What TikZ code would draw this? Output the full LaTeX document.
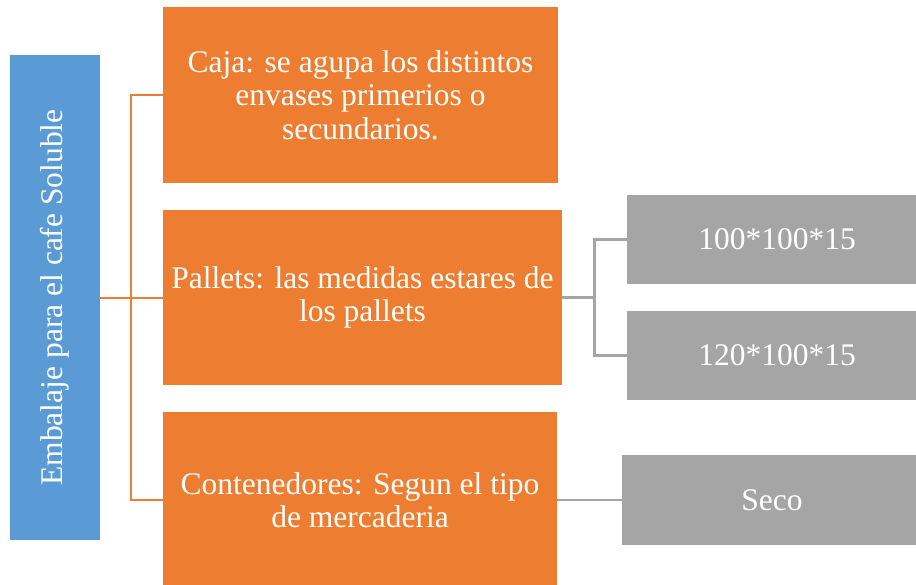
\documentclass[tikz,border=0pt]{standalone}
\usepackage{fontspec}
\setmainfont{Liberation Serif}
\usetikzlibrary{positioning}
\definecolor{embblue}{HTML}{5B9BD5}
\definecolor{emborange}{HTML}{ED7D31}
\definecolor{embgray}{HTML}{A5A5A5}

\begin{document}
\begin{tikzpicture}[x=1pt,y=-1pt,
  box/.style={rectangle,inner sep=0pt,text=white,align=center,font=\fontsize{31.5}{33.5}\selectfont},
  bluebox/.style={box,fill=embblue},
  orangebox/.style={box,fill=emborange,minimum width=395pt,minimum height=176pt},
  graybox/.style={box,fill=embgray,minimum width=300pt,minimum height=89pt},
  orangeline/.style={draw=emborange,line width=2pt},
  grayline/.style={draw=embgray,line width=2.6pt}]
\useasboundingbox (0,0) rectangle (916,584);
\node [bluebox,rotate=90,minimum width=485pt,minimum height=90pt,at={(55,297.5)}] (root) {Embalaje para el cafe Soluble};
\node [orangebox,at={(360.5,95)}] (caja) {Caja: se agupa los distintos\\envases primerios o\\secundarios.};
\node [orangebox,minimum width=399pt,minimum height=175pt,at={(362.5,297.5)}] (pallets) {Pallets: las medidas estares de\\los pallets};
\node [orangebox,minimum width=394pt,at={(360,500)}] (conten) {Contenedores: Segun el tipo\\de mercaderia};
\node [graybox,at={(777,239.5)}] (med1) {100*100*15};
\node [graybox,at={(777,355.5)}] (med2) {120*100*15};
\node [graybox,minimum height=90pt,at={(772,500)}] (seco) {Seco};

\draw [orangeline] (root.south) -- ++(31,0) |- (caja.west);
\draw [orangeline] (root.south) -- (pallets.west);
\draw [orangeline] (root.south) -- ++(31,0) |- (conten.west);
\draw [grayline] (pallets.east) -- ++(32,0) |- (med1.west);
\draw [grayline] (pallets.east) -- ++(32,0) |- (med2.west);
\draw [grayline] (conten.east) -- (seco.west);
\end{tikzpicture}
\end{document}
